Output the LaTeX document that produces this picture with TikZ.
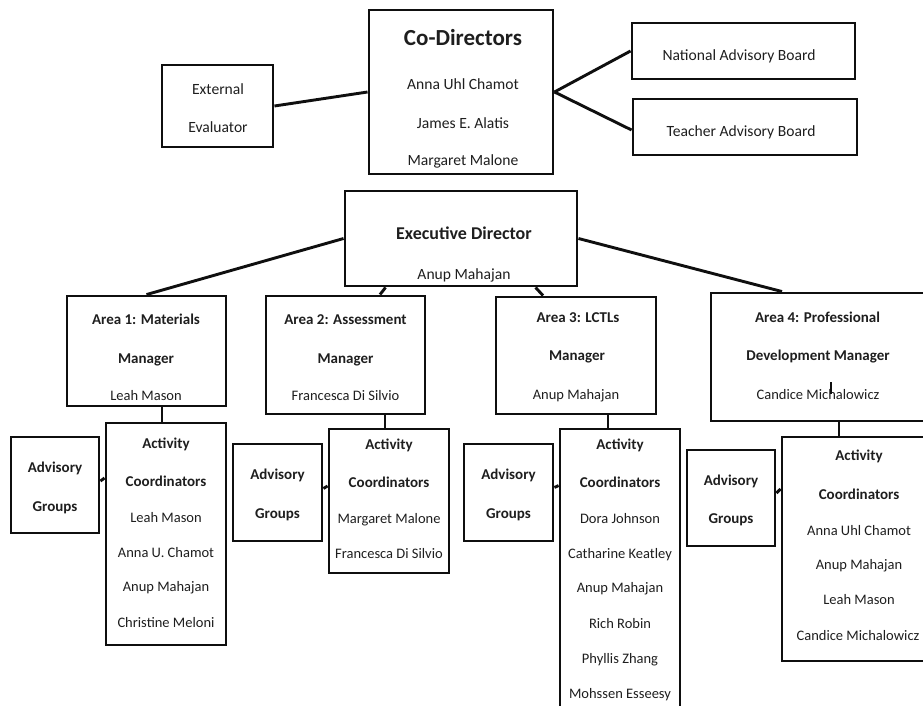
\documentclass[tikz,border=0pt]{standalone}
\usepackage{fontspec}
\setmainfont{Carlito}
\definecolor{txt}{RGB}{30,30,30}
\definecolor{ln}{RGB}{15,15,15}
\tikzset{
  box/.style 2 args={draw=ln, line width=2.9pt, inner sep=0pt, minimum width=#1pt, minimum height=#2pt},
  conn/.style={draw=ln, line width=2.9pt},
  rg/.style={text=txt, inner sep=0pt, anchor=mid, font=\fontsize{14.5}{17}\selectfont},
  rgl/.style={text=txt, inner sep=0pt, anchor=mid, font=\fontsize{15.6}{18}\selectfont},
  bd/.style={text=txt, inner sep=0pt, anchor=mid, font=\fontsize{15}{18}\selectfont\bfseries},
}
\begin{document}
\begin{tikzpicture}[x=1pt,y=-1pt]
\useasboundingbox (0,0) rectangle (923,706);
% boxes
\node[box={111}{82}]  (ext)  at (217.5,106) {};
\node[box={184}{164}] (cd)   at (461,92) {};
\node[box={223}{56}]  (nab)  at (743.5,51) {};
\node[box={224}{56}]  (tab)  at (745,127) {};
\node[box={232}{95}]  (exec) at (461,238.5) {};
\node[box={159}{110}] (a1)   at (146.5,351) {};
\node[box={159}{118}] (a2)   at (345.5,355) {};
\node[box={160}{117}] (a3)   at (576,355.5) {};
\node[box={229}{128}] (a4)   at (825.5,357) {};
\node[box={88}{96}]   (ag1)  at (55,485) {};
\node[box={120}{222}] (ac1)  at (166,534) {};
\node[box={89}{97}]   (ag2)  at (277.5,492.5) {};
\node[box={120}{144}] (ac2)  at (389,501) {};
\node[box={89}{97}]   (ag3)  at (508.5,492.5) {};
\node[box={120}{301}] (ac3)  at (620,579.5) {};
\node[box={88}{96}]   (ag4)  at (731,498) {};
\node[box={158}{224}] (ac4)  at (861,549) {};
% connectors
\draw[conn] (ext.east) -- (cd.west);
\draw[conn] (cd.east) -- (nab.west);
\draw[conn] (cd.east) -- ([yshift=-3pt]tab.west);
\draw[conn] (exec.west) -- (a1.north);
\draw[conn] ([xshift=42pt]exec.south west) -- ([xshift=34.5pt]a2.north);
\draw[conn] ([xshift=192pt]exec.south west) -- ([xshift=-33pt]a3.north);
\draw[conn] (exec.east) -- ([xshift=-43.5pt]a4.north);
\draw[conn] ([xshift=15.5pt]a1.south) -- ([xshift=-4pt]ac1.north);
\draw[conn] ([xshift=39.5pt]a2.south) -- ([xshift=-4pt]ac2.north);
\draw[conn] ([xshift=32pt]a3.south) -- ([xshift=-12pt]ac3.north);
\draw[conn] ([xshift=13.5pt]a4.south) -- ([xshift=-22pt]ac4.north);
\draw[conn] ([yshift=4pt]ag1.east) -- ([yshift=56pt]ac1.west);
\draw[conn] ([yshift=4pt]ag2.east) -- ([yshift=15pt]ac2.west);
\draw[conn] ([yshift=5pt]ag3.east) -- ([yshift=94pt]ac3.west);
\draw[conn] ([yshift=5pt]ag4.east) -- ([yshift=60pt]ac4.west);
% top texts
\node[rgl] (ext1) at (218,92) {External};
\node[rgl] (ext2) at (218,130) {Evaluator};
\node[text=txt, inner sep=0pt, anchor=mid, font=\fontsize{23}{26}\selectfont\bfseries] (cd0) at (463,43) {Co-Directors};
\node[rgl] (cd1) at (463,87) {Anna Uhl Chamot};
\node[rgl] (cd2) at (463,126) {James E. Alatis};
\node[rgl] (cd3) at (463,163) {Margaret Malone};
\node[rgl] (nab1) at (739,58) {National Advisory Board};
\node[rgl] (tab1) at (741,134) {Teacher Advisory Board};
\node[text=txt, inner sep=0pt, anchor=mid, font=\fontsize{18}{21}\selectfont\bfseries] (ex0) at (464,237) {Executive Director};
\node[rgl] (ex1) at (464,277) {Anup Mahajan};
% areas
\node[bd] (a1t1) at (146,322) {Area 1: Materials};
\node[bd] (a1t2) at (146,361) {Manager};
\node[rg]  (a1t3) at (146,398) {Leah Mason};
\node[bd] (a2t1) at (345.5,322) {Area 2: Assessment};
\node[bd] (a2t2) at (345.5,361) {Manager};
\node[rg]  (a2t3) at (345.5,398) {Francesca Di Silvio};
\node[bd] (a3t1) at (578,320) {Area 3: LCTLs};
\node[bd] (a3t2) at (577,358) {Manager};
\node[rg]  (a3t3) at (576,397) {Anup Mahajan};
\node[bd] (a4t1) at (817.5,320) {Area 4: Professional};
\node[bd] (a4t2) at (818,358) {Development Manager};
\node[rg]  (a4t3) at (818,397) {Candice Michalowicz};
\draw[ln, line width=1.6pt] (831,382) -- (831,394);
% advisory groups
\node[bd] (ag1a) at (55,470) {Advisory};
\node[bd] (ag1b) at (55,509) {Groups};
\node[bd] (ag2a) at (277.5,477) {Advisory};
\node[bd] (ag2b) at (277.5,516) {Groups};
\node[bd] (ag3a) at (508.5,477) {Advisory};
\node[bd] (ag3b) at (508.5,516) {Groups};
\node[bd] (ag4a) at (731,483) {Advisory};
\node[bd] (ag4b) at (731,521) {Groups};
% activity coordinators 1
\node[bd] (c1a) at (166,446) {Activity};
\node[bd] (c1b) at (166,484) {Coordinators};
\node[rg] (c1c) at (166,520) {Leah Mason};
\node[rg] (c1d) at (166,555) {Anna U. Chamot};
\node[rg] (c1e) at (166,589) {Anup Mahajan};
\node[rg] (c1f) at (166,625) {Christine Meloni};
% 2
\node[bd] (c2a) at (389,447) {Activity};
\node[bd] (c2b) at (389,485) {Coordinators};
\node[rg] (c2c) at (389,521) {Margaret Malone};
\node[rg] (c2d) at (389,556) {Francesca Di Silvio};
% 3
\node[bd] (c3a) at (620,447) {Activity};
\node[bd] (c3b) at (620,485) {Coordinators};
\node[rg] (c3c) at (620,521) {Dora Johnson};
\node[rg] (c3d) at (620,556) {Catharine Keatley};
\node[rg] (c3e) at (620,590) {Anup Mahajan};
\node[rg] (c3f) at (620,626) {Rich Robin};
\node[rg] (c3g) at (620,661) {Phyllis Zhang};
\node[rg] (c3h) at (620,696) {Mohssen Esseesy};
% 4
\node[bd] (c4a) at (859,458) {Activity};
\node[bd] (c4b) at (859,497) {Coordinators};
\node[rg] (c4c) at (859,533) {Anna Uhl Chamot};
\node[rg] (c4d) at (859,567) {Anup Mahajan};
\node[rg] (c4e) at (859,602) {Leah Mason};
\node[rg] (c4f) at (858,638) {Candice Michalowicz};
\end{tikzpicture}
\end{document}
